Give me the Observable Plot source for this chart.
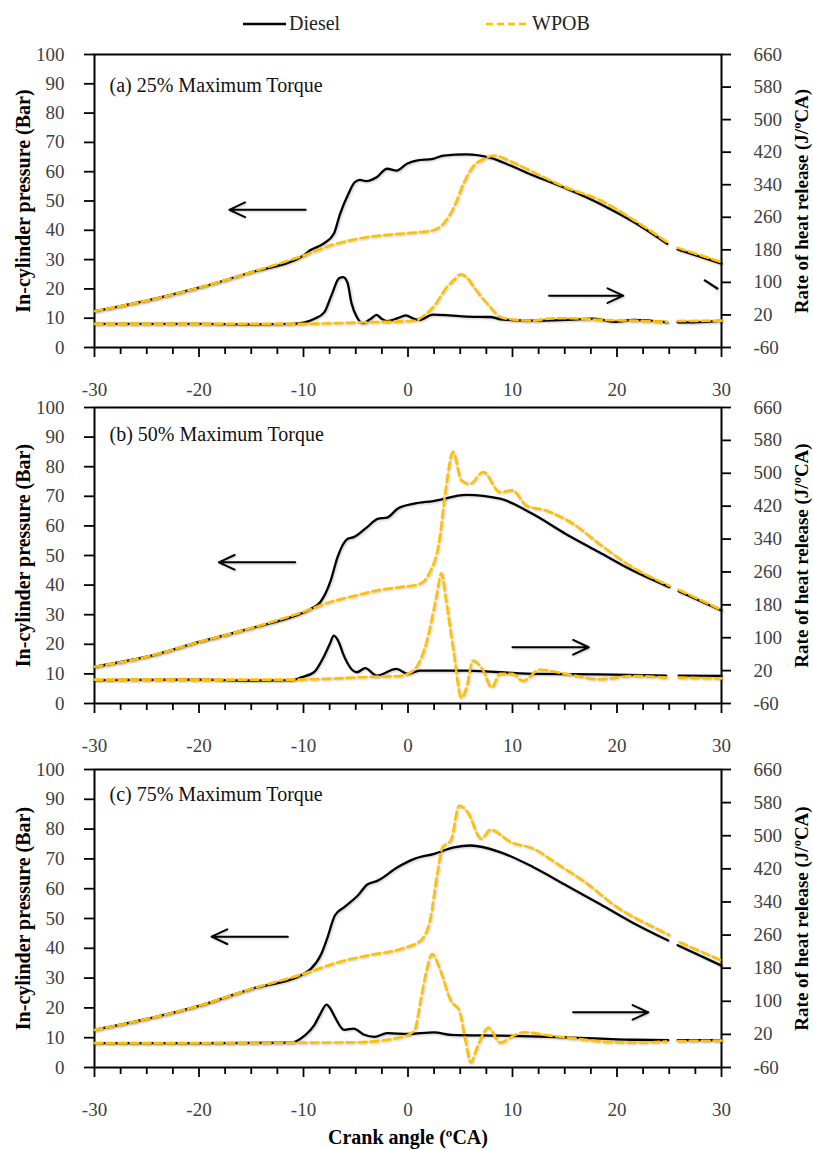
<!DOCTYPE html>
<html>
<head>
<meta charset="utf-8">
<script src="https://cdn.jsdelivr.net/npm/d3@7"></script>
<script src="https://cdn.jsdelivr.net/npm/@observablehq/plot@0.6"></script>
<style>
  body { margin: 0; background: #fff; }
  #chart { position: relative; width: 813px; height: 1150px; font-family: "Liberation Serif", "Times New Roman", serif; }
  #chart svg.panel { position: absolute; left: 0; overflow: visible; }
  #chart svg g[aria-label="line"], #chart svg g[aria-label="arrow"] {
    filter: drop-shadow(1px 1.5px 1px rgba(0,0,0,0.22));
  }
</style>
</head>
<body>
<div id="chart"></div>
<script>
// ---- series names and colours ----
const seriesNames = ["Diesel", "WPOB"];
const seriesColors = ["#000000", "#FFC000"];

// ---- tick values ----
const angleMajorTicks = [-30, -20, -10, 0, 10, 20, 30];
const angleMinorTicks = [-27.5, -25, -22.5, -17.5, -15, -12.5, -7.5, -5, -2.5, 2.5, 5, 7.5, 12.5, 15, 17.5, 22.5, 25, 27.5];
const pressureTicks = [0, 10, 20, 30, 40, 50, 60, 70, 80, 90, 100];
const hrrTicks = [-60, 20, 100, 180, 260, 340, 420, 500, 580, 660];

// ---- panel (a) 25% torque: [crank angle, pressure bar] and [crank angle, HRR J/ºCA] ----
const pressureDieselA = [[-30,12.4],[-25,16.0],[-20,20.4],[-15,25.7],[-10,31.4],[-9.4,33.1],[-8.1,35.4],[-7.1,38.8],[-6.5,45.6],[-5.7,52.5],[-5.1,56.4],[-4.6,57.2],[-4.0,56.8],[-3.0,58.1],[-2.0,61.0],[-1.1,60.4],[-0.1,62.7],[0.8,63.8],[2.4,64.4],[3.4,65.5],[5.6,65.9],[7.9,64.7],[9.8,62.1],[12,58.7],[15.2,54.2],[18.4,49.0],[21.6,42.8],[24.8,35.4],[25.3,null],[25.8,33.5],[30,28.6]];
const pressureWpobA = [[-30,12.4],[-25,16.0],[-20,20.4],[-15,25.7],[-10,31.4],[-7.1,35.2],[-4.0,37.6],[-0.8,38.8],[1.2,39.4],[2.4,40.0],[3.4,42.3],[4.4,47.9],[5.3,55.9],[6.3,62.1],[7.3,64.4],[8.2,65.5],[10,63.2],[12,59.8],[15,54.8],[18.4,50.2],[21.6,43.5],[24.8,35.9],[25.3,null],[25.8,34.0],[30,29.1]];
const hrrDieselA = [[-30,-2],[-25,-2],[-20,-2],[-15,-3],[-11,-2],[-10,1],[-9,10],[-8,27],[-7.3,70],[-6.6,110],[-6.2,113],[-5.8,100],[-5.4,48],[-4.9,15],[-4.3,0],[-3.6,10],[-3.0,20],[-2.5,10],[-2.0,5],[-1.0,12],[-0.2,19],[0.5,11],[1.1,8],[2.4,21],[4,19],[5.6,16],[7.9,15],[8.9,9],[12,6],[15,8],[17.8,11],[19.7,3],[21.6,8],[24.8,2],[25.3,null],[25.8,2],[27.3,2],[30,6]];
const hrrWpobA = [[-30,-2],[-20,-2],[-11,-2],[-4,2],[0.8,6],[1.1,11],[2.4,39],[3.7,88],[4.5,109],[5.0,120],[5.6,113],[6.3,88],[7.6,47],[8.9,14],[10,9],[12,6],[13.5,11],[15.2,12],[18.4,8],[21.6,6],[24.8,3],[25.3,null],[25.8,5],[30,6]];
const extraSegmentA = [[28.4,105],[29.6,85]];

// ---- panel (b) 50% torque ----
const pressureDieselB = [[-30,12.4],[-25,15.8],[-20,20.8],[-15,25.5],[-10,30.8],[-9.3,32.0],[-8.4,34.2],[-7.4,41.5],[-6.75,49.4],[-5.8,55.6],[-5.2,56.2],[-3.9,59.6],[-2.9,62.4],[-2.0,62.8],[-1.0,65.8],[0.6,67.5],[2.4,68.4],[5.6,70.5],[8.8,69.2],[11.9,64.1],[15.1,57.3],[18.3,51.1],[21.5,44.9],[25.0,39.3],[25.4,null],[25.9,37.9],[30,31.4]];
const pressureWpobB = [[-30,12.4],[-25,15.8],[-20,20.8],[-15,25.5],[-10,31.0],[-7.7,34.0],[-5,36.5],[-2.5,38.5],[-0.8,39.3],[1.1,40.4],[2.0,43.8],[3.0,55.1],[3.6,72.0],[4.3,85.0],[5.1,75.4],[5.9,74.2],[7.2,78.2],[8.8,71.4],[10.0,72.0],[11.3,66.9],[13.2,65.2],[15.8,60.7],[18.3,53.9],[21.5,46.0],[25.0,39.8],[25.4,null],[25.9,38.4],[30,31.6]];
const hrrDieselB = [[-30,-3],[-20,-2],[-15,-4],[-11,-3],[-10.3,3],[-9.0,16],[-8.1,52],[-7.5,84],[-7.1,105],[-6.6,88],[-6.2,60],[-4.9,16],[-4.1,26],[-3.0,8],[-1.1,24],[0,12],[1.1,20],[5.6,20],[11.9,12],[18.3,11],[24.7,8],[25.4,null],[25.9,8],[30,7]];
const hrrWpobB = [[-30,-2],[-11,-2],[-8,0],[-3.5,5],[-0.8,7],[0.5,20],[1.8,92],[2.7,198],[3.2,257],[3.6,198],[4.4,60],[5.1,-46],[5.6,-21],[6.2,44],[7.2,20],[8.0,-21],[8.8,12],[10.0,12],[11.0,-5],[12.6,22],[15.1,12],[18.3,-1],[21.5,7],[24.7,3],[25.4,null],[25.9,3],[30,1]];

// ---- panel (c) 75% torque ----
const pressureDieselC = [[-30,12.6],[-25,16.3],[-20,20.7],[-15,26.4],[-10,31.4],[-9.3,33.1],[-8.3,38.1],[-7.7,43.7],[-7.0,51.0],[-6.1,53.8],[-4.8,57.7],[-3.9,61.4],[-2.9,62.7],[-1.0,67.2],[0.6,70.0],[2.5,71.7],[4.4,73.9],[6.0,74.5],[8.8,72.3],[12.0,67.2],[15.2,61.0],[18.4,54.8],[21.5,48.6],[24.9,42.6],[25.3,null],[25.8,41.0],[30,34.2]];
const pressureWpobC = [[-30,12.6],[-25,16.3],[-20,20.7],[-15,26.4],[-10,31.4],[-7,35.0],[-3.9,37.6],[-0.7,39.8],[1.2,42.6],[2.1,49.3],[2.8,65.0],[3.3,73.9],[4.1,76.2],[4.9,87.9],[5.7,85.7],[7.0,76.8],[7.9,79.8],[9.8,75.7],[12.0,73.4],[14.5,67.8],[16.7,62.8],[20.0,53.8],[24.1,46.0],[25.0,44.4],[25.4,null],[26.0,42.0],[30,35.9]];
const hrrDieselC = [[-30,-1],[-20,-1],[-11.2,0],[-9.9,17],[-9.0,41],[-8.4,69],[-7.8,92],[-7.4,81],[-7.0,62],[-6.1,31],[-5.2,34],[-4.2,19],[-3.2,14],[-2.0,23],[0,21],[2.5,25],[4.1,19],[8.8,17],[15.2,13],[21.5,7],[24.9,6],[25.3,null],[25.8,6],[30,6]];
const hrrWpobC = [[-30,-1],[-20,-1],[-11,0],[-5,1],[-0.7,13],[0.6,29],[1.2,101],[1.7,166],[2.3,214],[3.1,174],[4.1,101],[4.9,78],[5.5,5],[6.0,-48],[6.6,-12],[7.7,36],[8.8,0],[10.1,17],[11.1,25],[13.6,17],[15.8,11],[18.4,3],[21.5,0],[24.7,3],[25.3,null],[25.8,4],[30,5]];

// ---- direction arrows (in pressure units) ----
const arrowsA = [{x1:-9.8,y1:47,x2:-17.1,y2:47},{x1:13.5,y1:17.7,x2:20.6,y2:17.7}];
const arrowsB = [{x1:-10.8,y1:47.7,x2:-18.1,y2:47.7},{x1:10.0,y1:19,x2:17.3,y2:19}];
const arrowsC = [{x1:-11.5,y1:43.9,x2:-18.8,y2:43.9},{x1:15.8,y1:18.5,x2:23.0,y2:18.5}];

const panelLabels = ["(a) 25% Maximum Torque", "(b) 50% Maximum Torque", "(c) 75% Maximum Torque"];
const leftTitle = "In-cylinder pressure (Bar)";
const rightTitle = "Rate of heat release (J/ºCA)";
const xTitle = "Crank angle (ºCA)";

// heat release values share the pressure frame: -60..660 J/ºCA maps onto 0..100 bar
const hrrMin = -60, hrrMax = 660;
const hrrToBar = v => v == null ? NaN : (v - hrrMin) * 100 / (hrrMax - hrrMin);
const barToHrr = b => Math.round(b * (hrrMax - hrrMin) / 100 + hrrMin);

const panels = [
  {label: panelLabels[0], top: 54, h: 293, pD: pressureDieselA, pW: pressureWpobA, hD: hrrDieselA, hW: hrrWpobA, arrows: arrowsA, labelDy: 31, extra: extraSegmentA},
  {label: panelLabels[1], top: 407, h: 296, pD: pressureDieselB, pW: pressureWpobB, hD: hrrDieselB, hW: hrrWpobB, arrows: arrowsB, labelDy: 27},
  {label: panelLabels[2], top: 769, h: 298, pD: pressureDieselC, pW: pressureWpobC, hD: hrrDieselC, hW: hrrWpobC, arrows: arrowsC, labelDy: 25, xTitle: true}
];

const fontFamily = '"Liberation Serif", "Times New Roman", serif';
const chart = document.getElementById("chart");

// legend
const legend = d3.select(chart).append("svg")
  .attr("width", 813).attr("height", 44)
  .style("position", "absolute").style("left", "0px").style("top", "0px");
const legendX = [243, 486];
seriesNames.forEach((name, i) => {
  legend.append("line")
    .attr("x1", legendX[i]).attr("x2", legendX[i] + 43)
    .attr("y1", 24).attr("y2", 24)
    .attr("stroke", seriesColors[i]).attr("stroke-width", 2.6)
    .attr("stroke-dasharray", i === 1 ? "7,4" : null);
  legend.append("text")
    .attr("x", legendX[i] + 46).attr("y", 30)
    .attr("font-family", fontFamily).attr("font-size", 20)
    .attr("fill", "#222").text(name);
});

const marginTop = 12, marginBottom = 62;

panels.forEach(p => {
  const lineP = (data, i) => Plot.line(data, {
    x: d => d[0], y: d => d[1] == null ? NaN : d[1],
    stroke: seriesColors[i], strokeWidth: i === 0 ? 2.3 : 2.6,
    strokeDasharray: i === 1 ? "8,4" : null, curve: "monotone-x"
  });
  const lineH = (data, i) => Plot.line(data, {
    x: d => d[0], y: d => hrrToBar(d[1]),
    stroke: seriesColors[i], strokeWidth: i === 0 ? 2.3 : 2.6,
    strokeDasharray: i === 1 ? "8,4" : null, curve: "monotone-x"
  });

  const marks = [
    // crank angle ticks and labels
    Plot.axisX({ticks: angleMinorTicks, tickSize: 7, tickFormat: () => "", stroke: "#000", strokeWidth: 1.8, label: null}),
    Plot.axisX({ticks: angleMajorTicks, tickSize: 10, tickFormat: () => "", stroke: "#000", strokeWidth: 1.8, label: null}),
    Plot.axisX({ticks: angleMajorTicks, tickSize: 0, tickPadding: 35, tickFormat: d => String(d), fill: "#404040", fontSize: 19, label: null}),
    // pressure axis (left)
    Plot.axisY({anchor: "left", ticks: pressureTicks, tickSize: 10, tickFormat: () => "", stroke: "#000", strokeWidth: 1.8, label: null}),
    Plot.axisY({anchor: "left", ticks: pressureTicks, tickSize: 0, tickPadding: 30, tickFormat: d => String(d), fill: "#404040", fontSize: 19, label: null}),
    // heat release axis (right)
    Plot.axisY({anchor: "right", ticks: hrrTicks.map(hrrToBar), tickSize: 9, tickFormat: () => "", stroke: "#000", strokeWidth: 1.8, label: null}),
    Plot.axisY({anchor: "right", ticks: hrrTicks.map(hrrToBar), tickSize: 0, tickPadding: 32, tickFormat: d => String(barToHrr(d)), fill: "#404040", fontSize: 19, label: null}),
    Plot.frame({stroke: "#000", strokeWidth: 2}),
    // axis titles
    Plot.text([leftTitle], {text: d => d, frameAnchor: "left", dx: -71, rotate: -90, textAnchor: "middle", lineAnchor: "middle", fontWeight: "bold", fontSize: 20, fill: "#000"}),
    Plot.text([rightTitle], {text: d => d, frameAnchor: "right", dx: 80, rotate: -90, textAnchor: "middle", lineAnchor: "middle", fontWeight: "bold", fontSize: 19, fill: "#000"}),
    // panel label
    Plot.text([p.label], {text: d => d, frameAnchor: "top-left", dx: 15, dy: p.labelDy, textAnchor: "start", lineAnchor: "middle", fontSize: 20, fill: "#111"}),
    // curves: diesel below, WPOB on top
    lineP(p.pD, 0), lineH(p.hD, 0),
    lineP(p.pW, 1), lineH(p.hW, 1),
    Plot.arrow(p.arrows, {x1: "x1", y1: "y1", x2: "x2", y2: "y2", stroke: "#000", strokeWidth: 2, headLength: 13, headAngle: 50})
  ];
  if (p.extra) marks.push(lineH(p.extra, 0));
  if (p.xTitle) marks.push(Plot.text([xTitle], {text: d => d, frameAnchor: "bottom", dy: 76, fontWeight: "bold", fontSize: 20, fill: "#000"}));

  const svg = Plot.plot({
    width: 813,
    height: marginTop + p.h + marginBottom,
    marginLeft: 94, marginRight: 92, marginTop, marginBottom,
    x: {domain: [-30, 30]},
    y: {domain: [0, 100]},
    style: {fontFamily, fontSize: "19px", color: "#000", background: "transparent", overflow: "visible"},
    marks
  });
  svg.classList.add("panel");
  svg.style.top = (p.top - marginTop) + "px";
  chart.appendChild(svg);
});
</script>
</body>
</html>
